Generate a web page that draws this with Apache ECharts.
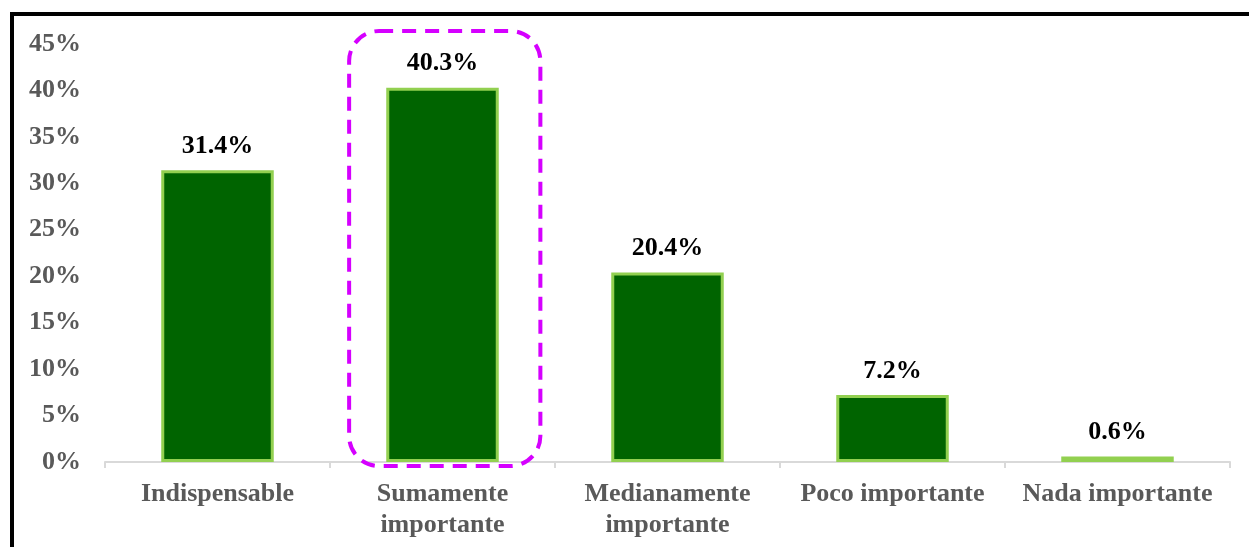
<!DOCTYPE html>
<html><head><meta charset="utf-8">
<script src="https://cdn.jsdelivr.net/npm/echarts@6/dist/echarts.min.js"></script>
<style>html,body{margin:0;padding:0;background:#fff}#c{width:1249px;height:547px}</style>
</head><body><div id="c"></div>
<script>
const categories = ['Indispensable', 'Sumamente\nimportante', 'Medianamente\nimportante', 'Poco importante', 'Nada importante'];
const values = [31.4, 40.3, 20.4, 7.2, 0.6];
const yTicks = [0, 5, 10, 15, 20, 25, 30, 35, 40, 45];
const highlightIndex = 1;

const serif = '"Liberation Serif", "Times New Roman", serif';
const chart = echarts.init(document.getElementById('c'), null, {renderer: 'canvas'});
const option = {
  animation: false,
  backgroundColor: '#fff',
  grid: {left: 105, right: 19, top: 44, bottom: 85},
  xAxis: {
    type: 'category', data: categories,
    axisLine: {lineStyle: {color: '#d9d9d9', width: 2}},
    axisTick: {show: true, length: 6, lineStyle: {color: '#d9d9d9', width: 2}},
    axisLabel: {color: '#595959', fontFamily: serif, fontWeight: 'bold', fontSize: 26, lineHeight: 31, margin: 17, interval: 0}
  },
  yAxis: {
    type: 'value', min: yTicks[0], max: yTicks[yTicks.length - 1], interval: 5,
    splitLine: {show: false}, axisLine: {show: false}, axisTick: {show: false},
    axisLabel: {color: '#595959', fontFamily: serif, fontWeight: 'bold', fontSize: 26, margin: 24, formatter: v => v + '%'}
  },
  series: [{
    type: 'bar', data: values, barWidth: '50%',
    itemStyle: {color: '#006400', borderColor: '#92D050', borderWidth: 3},
    label: {show: true, position: 'top', distance: 11, color: '#000', fontFamily: serif, fontWeight: 'bold', fontSize: 26,
      formatter: p => p.value.toFixed(1) + '%'}
  }]
};
chart.setOption(option);

const c0 = chart.convertToPixel({seriesIndex: 0}, [highlightIndex, 0]);
const cTop = chart.convertToPixel({seriesIndex: 0}, [highlightIndex, yTicks[yTicks.length - 1]]);
const bandW = (1249 - 105 - 19) / categories.length;
chart.setOption({
  graphic: [
    {type: 'rect', silent: true, shape: {x: c0[0] - bandW * 0.415, y: cTop[1] - 13, width: bandW * 0.85, height: c0[1] - cTop[1] + 17, r: 30},
      style: {fill: 'none', stroke: '#D500FF', lineWidth: 4, lineDash: [14, 9]}, z: 100},
    {type: 'line', silent: true, shape: {x1: 10, y1: 14, x2: 1249, y2: 14}, style: {stroke: '#000', lineWidth: 4}, z: 100},
    {type: 'line', silent: true, shape: {x1: 12, y1: 12, x2: 12, y2: 547}, style: {stroke: '#000', lineWidth: 4}, z: 100}
  ]
});
</script></body></html>
